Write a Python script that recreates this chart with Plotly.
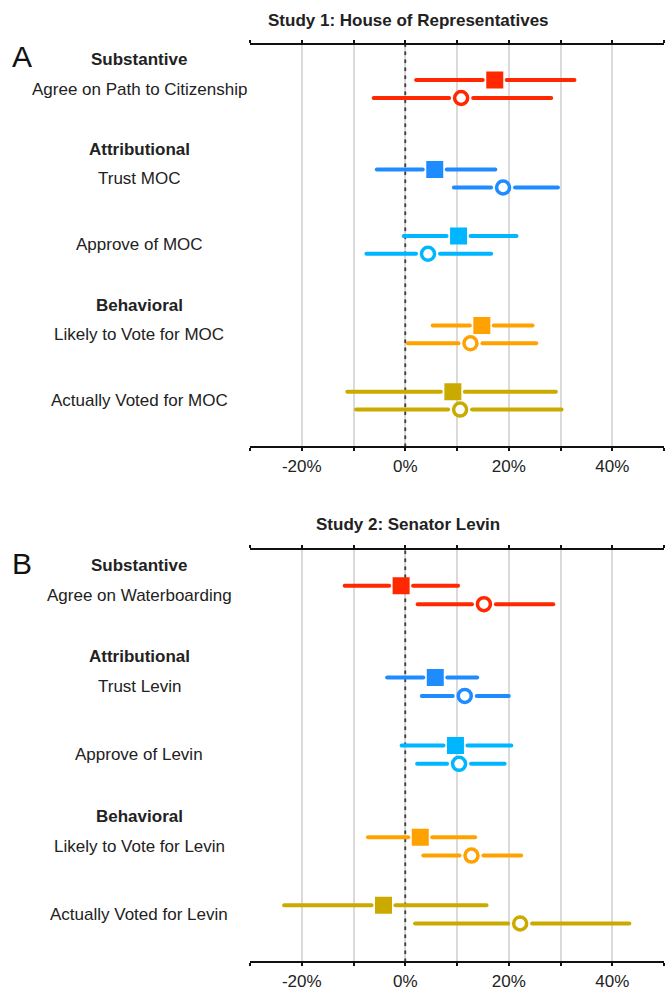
import plotly.graph_objects as go

# ---------------- data ----------------
items_A = ["Agree on Path to Citizenship", "Trust MOC", "Approve of MOC",
           "Likely to Vote for MOC", "Actually Voted for MOC"]
items_B = ["Agree on Waterboarding", "Trust Levin", "Approve of Levin",
           "Likely to Vote for Levin", "Actually Voted for Levin"]
headers = ["Substantive", "Attributional", "", "Behavioral", ""]

# Study 1: filled squares / open circles (effect estimate, CI low, CI high), in %
A_sq_est = [17.3, 5.7, 10.3, 14.8, 9.2]
A_sq_lo = [2.1, -5.5, -0.3, 5.3, -11.2]
A_sq_hi = [32.7, 17.4, 21.5, 24.6, 29.1]
A_ci_est = [10.8, 18.9, 4.4, 12.6, 10.6]
A_ci_lo = [-6.1, 9.4, -7.5, 0.5, -9.5]
A_ci_hi = [28.2, 29.5, 16.6, 25.3, 30.2]

# Study 2
B_sq_est = [-0.8, 5.8, 9.7, 2.9, -4.2]
B_sq_lo = [-11.7, -3.5, -0.7, -7.2, -23.4]
B_sq_hi = [10.2, 13.9, 20.5, 13.5, 15.7]
B_ci_est = [15.2, 11.5, 10.4, 12.8, 22.2]
B_ci_lo = [2.4, 3.2, 2.3, 3.5, 1.9]
B_ci_hi = [28.6, 20.0, 19.2, 22.4, 43.3]

tick_vals = [-30, -20, -10, 0, 10, 20, 30, 40, 50]
tick_text = ["", "-20%", "", "0%", "", "20%", "", "40%", ""]

# ---------------- style ----------------
colors = ["#FF2800", "#1E8CFF", "#00B6FF", "#FFA200", "#CBAA00"]
row_pos = [0, 1.35, 2.35, 3.7, 4.7]
pair_off = 0.135
X_RANGE = [-30, 50]
Y_RANGE = [5.39, -0.67]
W, H = 666, 991
PLOT_L, PLOT_R = 250, 664
px_per_unit = (PLOT_R - PLOT_L) / (X_RANGE[1] - X_RANGE[0])
gap = 12 / px_per_unit
FONT = "Liberation Sans, Arial, Helvetica, sans-serif"
TXT = "#222222"

fig = go.Figure()

# zero reference lines (drawn first so they sit beneath the intervals)
for xa, ya in [("x", "y"), ("x2", "y2")]:
    fig.add_trace(go.Scatter(x=[0, 0], y=Y_RANGE, mode="lines", xaxis=xa, yaxis=ya,
                             line=dict(color="#444444", width=2, dash="2px,6px"),
                             showlegend=False, hoverinfo="skip"))


def add_panel(sq_est, sq_lo, sq_hi, ci_est, ci_lo, ci_hi, xa, ya):
    for i in range(len(sq_est)):
        c = colors[i]
        for est, lo, hi, off, kind in [(sq_est[i], sq_lo[i], sq_hi[i], -pair_off, "sq"),
                                       (ci_est[i], ci_lo[i], ci_hi[i], pair_off, "ci")]:
            y = row_pos[i] + off
            xs, ys = [], []
            if est - gap > lo:
                xs += [lo, est - gap, None]
                ys += [y, y, None]
            if est + gap < hi:
                xs += [est + gap, hi]
                ys += [y, y]
            fig.add_trace(go.Scatter(x=xs, y=ys, mode="lines", xaxis=xa, yaxis=ya,
                                     line=dict(color=c, width=4), showlegend=False,
                                     hoverinfo="skip", connectgaps=False))
            if kind == "sq":
                marker = dict(symbol="square", size=15.5, color=c, line=dict(color=c, width=1.5))
            else:
                marker = dict(symbol="circle", size=13, color="white", line=dict(color=c, width=3.5))
            fig.add_trace(go.Scatter(x=[est], y=[y], mode="markers", xaxis=xa, yaxis=ya,
                                     marker=marker, showlegend=False))


add_panel(A_sq_est, A_sq_lo, A_sq_hi, A_ci_est, A_ci_lo, A_ci_hi, "x", "y")
add_panel(B_sq_est, B_sq_lo, B_sq_hi, B_ci_est, B_ci_lo, B_ci_hi, "x2", "y2")

xdom = [PLOT_L / W, PLOT_R / W]
domA = [1 - 450 / H, 1 - 45 / H]
domB = [1 - 969 / H, 1 - 554 / H]

xaxis_style = dict(range=X_RANGE, domain=xdom, tickvals=tick_vals, ticktext=tick_text,
                   showgrid=True, gridcolor="#DADADA", gridwidth=1.5, zeroline=False,
                   showline=True, linecolor="#111111", linewidth=2, mirror="ticks",
                   ticks="outside", ticklen=3, tickwidth=1.5, tickcolor="#111111",
                   tickfont=dict(family=FONT, size=17, color=TXT), fixedrange=True)
yaxis_style = dict(range=Y_RANGE, showgrid=False, zeroline=False, showline=False,
                   showticklabels=False, ticks="", fixedrange=True)

fig.update_layout(
    width=W, height=H, margin=dict(l=0, r=0, t=0, b=0),
    paper_bgcolor="white", plot_bgcolor="white",
    xaxis=dict(xaxis_style, anchor="y"),
    yaxis=dict(yaxis_style, domain=domA, anchor="x"),
    xaxis2=dict(xaxis_style, anchor="y2"),
    yaxis2=dict(yaxis_style, domain=domB, anchor="x2"),
)

label_x = 139 / W
for items, yref in [(items_A, "y"), (items_B, "y2")]:
    for i, name in enumerate(items):
        fig.add_annotation(x=label_x, xref="paper", y=row_pos[i], yref=yref, text=name,
                           showarrow=False, xanchor="center", yanchor="middle",
                           font=dict(family=FONT, size=17, color=TXT))
        if headers[i]:
            fig.add_annotation(x=label_x, xref="paper", y=row_pos[i] - 0.44, yref=yref,
                               text="<b>" + headers[i] + "</b>", showarrow=False,
                               xanchor="center", yanchor="middle",
                               font=dict(family=FONT, size=17, color=TXT))

for title, ypx in [("Study 1: House of Representatives", 21), ("Study 2: Senator Levin", 529)]:
    fig.add_annotation(x=408 / W, xref="paper", y=1 - ypx / H, yref="paper",
                       text="<b>" + title + "</b>", showarrow=False, xanchor="center",
                       yanchor="middle", font=dict(family=FONT, size=17, color=TXT))

for letter, ypx in [("A", 57), ("B", 568)]:
    fig.add_annotation(x=10 / W, xref="paper", y=1 - ypx / H, yref="paper", text=letter,
                       showarrow=False, xanchor="left", yanchor="middle",
                       font=dict(family=FONT, size=30, color="#111111"))

fig.write_html("out.html", post_script=(
    "document.querySelectorAll('.scatterlayer .js-line').forEach("
    "function(e){e.style.strokeLinecap='round';});"))
